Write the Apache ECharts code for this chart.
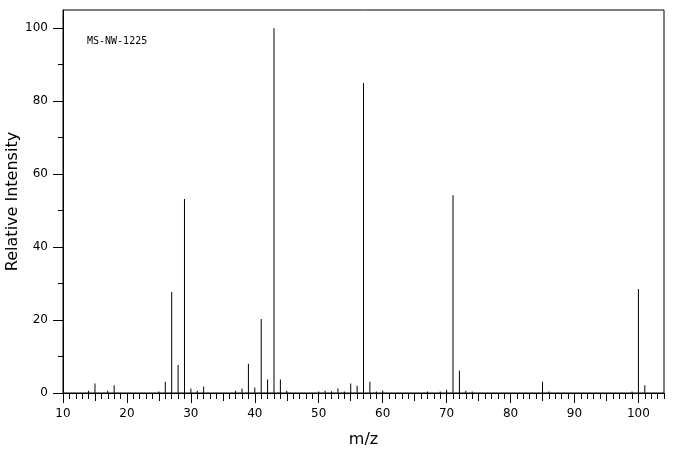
<!DOCTYPE html>
<html>
<head>
<meta charset="utf-8">
<script src="https://cdn.jsdelivr.net/npm/echarts@6/dist/echarts.min.js"></script>
<style>html,body{margin:0;padding:0;background:#fff;}#c{width:676px;height:455px;}</style>
</head>
<body>
<div id="c"></div>
<script>
// m/z values and relative intensities
var mzValues = [14,15,17,18,25,26,27,28,29,30,31,32,37,38,39,40,41,42,43,44,45,50,51,52,53,54,55,56,57,58,59,60,67,69,70,71,72,73,74,85,86,99,100,101];
var intensities = [0.6,2.6,0.6,2.1,0.4,3.1,27.7,7.7,53.2,1.2,0.6,1.8,0.6,1.2,8.0,1.5,20.3,3.7,100,3.7,0.6,0.4,0.6,0.5,1.2,0.4,2.6,2.0,85.0,3.1,0.4,0.7,0.4,0.4,0.9,54.2,6.1,0.6,0.4,3.1,0.4,0.4,28.5,2.1];
var xTickLabels = [10,20,30,40,50,60,70,80,90,100];
var yTickLabels = [0,20,40,60,80,100];
var yMinorTicks = [10,30,50,70,90];
var sampleId = 'MS-NW-1225';
var xName = 'm/z';
var yName = 'Relative Intensity';

var xMin = 10, xMax = 104, yMin = 0, yMax = 105;
var xFiveTicks = [], xUnitTicks = [];
for (var v = xMin; v <= xMax; v++) { xUnitTicks.push(v); if (v % 5 === 0) xFiveTicks.push(v); }

var seriesData = mzValues.map(function (m, i) { return [m, intensities[i]]; });
var font = 'DejaVu Sans';
var gridBox = {left: 63, right: 12, top: 10, bottom: 62, containLabel: false, outerBoundsMode: 'none'};

function xAx(idx, ticks, len, labels) {
  return {
    type: 'value', gridIndex: idx, min: xMin, max: xMax,
    axisLine: {show: idx === 0, lineStyle: {color: '#000', width: 1}},
    axisTick: {show: true, customValues: ticks, length: len, lineStyle: {color: '#000', width: 1}},
    axisLabel: labels ? {show: true, customValues: labels, color: '#000', fontFamily: font, fontSize: 12, margin: 15} : {show: false},
    splitLine: {show: false},
    name: idx === 0 ? xName : '', nameLocation: 'middle', nameGap: 39, nameMoveOverlap: false,
    nameTextStyle: {color: '#000', fontFamily: font, fontSize: 16}
  };
}
function yAx(idx, ticks, len, labels) {
  return {
    type: 'value', gridIndex: idx, min: yMin, max: yMax,
    axisLine: {show: idx === 0, lineStyle: {color: '#000', width: 1}},
    axisTick: {show: ticks !== null, customValues: ticks || [], length: len, lineStyle: {color: '#000', width: 1}},
    axisLabel: labels ? {show: true, customValues: labels, color: '#000', fontFamily: font, fontSize: 12, margin: 15} : {show: false},
    splitLine: {show: false},
    name: idx === 0 ? yName : '', nameLocation: 'middle', nameGap: 42, nameMoveOverlap: false,
    nameTextStyle: {color: '#000', fontFamily: font, fontSize: 16}
  };
}

var chart = echarts.init(document.getElementById('c'), null, {renderer: 'canvas'});
chart.setOption({
  animation: false,
  backgroundColor: '#fff',
  grid: [
    Object.assign({show: true, borderColor: '#000', borderWidth: 1, backgroundColor: 'transparent'}, gridBox),
    Object.assign({}, gridBox),
    Object.assign({}, gridBox)
  ],
  xAxis: [
    xAx(0, xTickLabels, 10, xTickLabels),
    xAx(1, xFiveTicks, 8, null),
    xAx(2, xUnitTicks, 6, null)
  ],
  yAxis: [
    yAx(0, yTickLabels, 10, yTickLabels),
    yAx(1, yMinorTicks, 5, null),
    yAx(2, null, 0, null)
  ],
  graphic: [{
    type: 'text', left: 87, top: 36,
    style: {text: sampleId, fill: '#000', font: '10px "DejaVu Sans Mono"'}
  }],
  series: [{
    type: 'bar', xAxisIndex: 0, yAxisIndex: 0,
    data: seriesData, barWidth: 1,
    itemStyle: {color: '#000'},
    emphasis: {disabled: true}
  }]
});
</script>
</body>
</html>
